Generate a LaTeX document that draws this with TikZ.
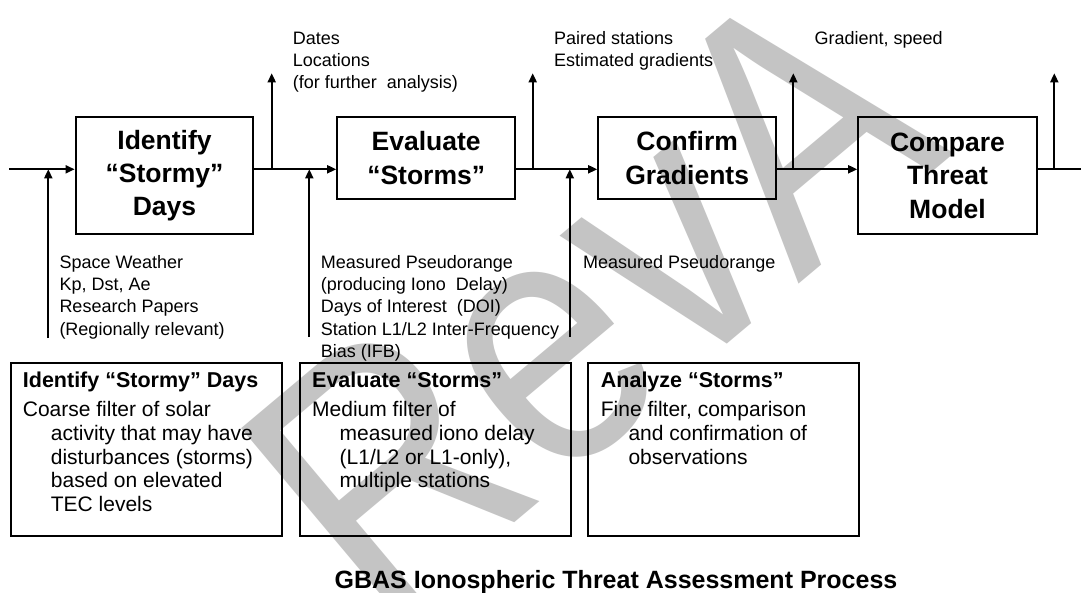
\documentclass[tikz,border=0pt]{standalone}
\usepackage{fontspec}
\setmainfont{Liberation Sans}
\usetikzlibrary{arrows.meta}
\definecolor{wmgray}{HTML}{C4C4C4}
\begin{document}
\begin{tikzpicture}[x=1pt,y=-1pt,
  proc/.style={draw, line width=2.2pt, align=center, inner sep=0pt,
    font=\fontsize{26.5}{33.3}\selectfont\bfseries},
  note/.style={draw, line width=2pt, inner sep=0pt},
  ln/.style={line width=1.9pt},
  arr/.style={line width=1.9pt, -{Triangle[length=9pt,width=8pt]}},
  lbl/.style={anchor=base west, inner sep=0pt, font=\fontsize{18}{22}\selectfont},
  body/.style={anchor=base west, inner sep=0pt, font=\fontsize{21}{24}\selectfont},
  btitle/.style={anchor=base west, inner sep=0pt, font=\fontsize{21.5}{24}\selectfont\bfseries},
  wm/.style={inner sep=0pt, text=wmgray, font=\fontsize{360}{360}\selectfont}]
\useasboundingbox (0,0) rectangle (1081,592);
\fill[white] (0,0) rectangle (1081,592);

% watermark
\node[wm, rotate=40, xscale=0.85] (wmark) at (590,300) {RevA};

% process boxes
\node[proc, minimum width=177.6pt, minimum height=116.7pt] (b1) at (164.5,175.65) {Identify\\“Stormy”\\Days};
\node[proc, minimum width=177.7pt, minimum height=81.7pt] (b2) at (426.15,158.15) {Evaluate\\“Storms”};
\node[proc, minimum width=177.7pt, minimum height=81.7pt] (b3) at (687.15,158.15) {Confirm\\Gradients};
\node[proc, minimum width=178.4pt, minimum height=116.7pt] (b4) at (947.5,175.65) {Compare\\Threat\\Model};

% main flow line
\coordinate (s) at (9,169.3);
\coordinate (e) at (1081,169.3);
\draw[arr] (s) -- (s -| b1.west);
\draw[arr] (s -| b1.east) -- (s -| b2.west);
\draw[arr] (s -| b2.east) -- (s -| b3.west);
\draw[arr] (s -| b3.east) -- (s -| b4.west);
\draw[ln] (s -| b4.east) -- (e);

% inputs
\coordinate (i1) at (48.3,338);
\coordinate (i2) at (309.3,337);
\coordinate (i3) at (569.8,337);
\draw[arr] (i1) -- (i1 |- s);
\draw[arr] (i2) -- (i2 |- s);
\draw[arr] (i3) -- (i3 |- s);

% outputs
\coordinate (o1) at (271.7,73.3);
\coordinate (o2) at (532.7,73.3);
\coordinate (o3) at (793.3,73.3);
\coordinate (o4) at (1054.3,73.3);
\draw[arr] (o1 |- s) -- (o1);
\draw[arr] (o2 |- s) -- (o2);
\draw[arr] (o3 |- s) -- (o3);
\draw[arr] (o4 |- s) -- (o4);

% output labels
\node[lbl] (t1a) at (292.7,44.3) {Dates};
\node[lbl] (t1b) at (292.7,66.6) {Locations};
\node[lbl] (t1c) at (292.7,88.9) {(for further\ \ analysis)};
\node[lbl] (t2a) at (553.8,44.3) {Paired stations};
\node[lbl] (t2b) at (553.8,66.6) {Estimated gradients};
\node[lbl] (t3a) at (814.3,44.3) {Gradient, speed};

% input labels
\node[lbl] (u1a) at (59.3,268.3) {Space Weather};
\node[lbl] (u1b) at (59.3,290.6) {Kp, Dst, Ae};
\node[lbl] (u1c) at (59.3,312.9) {Research Papers};
\node[lbl] (u1d) at (59.3,335.2) {(Regionally relevant)};
\node[lbl] (u2a) at (320.7,268.3) {Measured Pseudorange};
\node[lbl] (u2b) at (320.7,290.6) {(producing Iono\ \ Delay)};
\node[lbl] (u2c) at (320.7,312.9) {Days of Interest\ \ (DOI)};
\node[lbl] (u2d) at (320.7,335.2) {Station L1/L2 Inter-Frequency};
\node[lbl] (u2e) at (320.7,357.5) {Bias (IFB)};
\node[lbl] (u3a) at (583,268.3) {Measured Pseudorange};

% description boxes
\node[note, minimum width=271.5pt, minimum height=173.3pt] (dA) at (146.25,449.35) {};
\node[note, minimum width=270.5pt, minimum height=173.3pt] (dB) at (435.25,449.35) {};
\node[note, minimum width=271pt, minimum height=173.3pt] (dC) at (723.8,449.35) {};

\node[btitle] (aT) at (22.7,387) {Identify “Stormy” Days};
\node[body] (a1) at (22.7,416.5) {Coarse filter of solar};
\node[body] (a2) at (50.7,440.3) {activity that may have};
\node[body] (a3) at (50.7,464.1) {disturbances (storms)};
\node[body] (a4) at (50.7,487.9) {based on elevated};
\node[body] (a5) at (50.7,511.7) {TEC levels};

\node[btitle] (bT) at (312,387) {Evaluate “Storms”};
\node[body] (b1l) at (312,416.5) {Medium filter of};
\node[body] (b2l) at (339.5,440.3) {measured iono delay};
\node[body] (b3l) at (339.5,464.1) {(L1/L2 or L1-only),};
\node[body] (b4l) at (339.5,487.9) {multiple stations};

\node[btitle] (cT) at (600.7,387) {Analyze “Storms”};
\node[body] (c1) at (600.7,416.5) {Fine filter, comparison};
\node[body] (c2) at (628.3,440.3) {and confirmation of};
\node[body] (c3) at (628.3,464.1) {observations};

% caption
\node[anchor=base, inner sep=0pt, font=\fontsize{25}{30}\selectfont\bfseries] (cap) at (616,588) {GBAS Ionospheric Threat Assessment Process};
\end{tikzpicture}
\end{document}
